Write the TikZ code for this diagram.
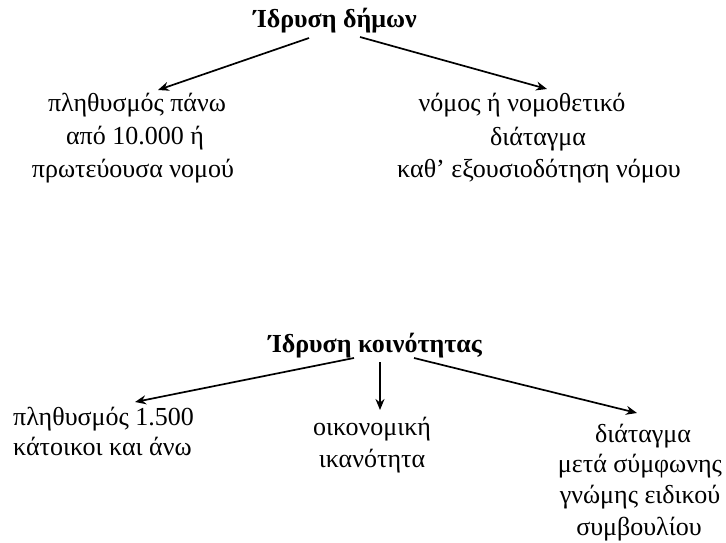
\documentclass[tikz,border=0pt]{standalone}
\usepackage{fontspec}
\setmainfont{Liberation Serif}
\usetikzlibrary{arrows.meta}
\begin{document}
\begin{tikzpicture}[x=1pt,y=-1pt,
  txt/.style={anchor=base,font=\fontsize{26}{30}\selectfont,inner sep=0pt},
  lft/.style={txt,anchor=base west},
  ttl/.style={anchor=base,font=\fontsize{26}{30}\bfseries\selectfont,inner sep=0pt},
  arr/.style={-{Stealth[length=11pt,width=9pt]},line width=1.7pt}]
\useasboundingbox (0,0) rectangle (726,543);
% --- top
\node[ttl] (d) at (335,28) {Ίδρυση δήμων};
\node[txt] (d1a) at (137,111) {πληθυσμός πάνω};
\node[txt] (d1b) at (135,144) {από 10.000 ή};
\node[txt] (d1c) at (133,177) {πρωτεύουσα νομού};
\node[txt] (d2a) at (522,111) {νόμος ή νομοθετικό};
\node[txt] (d2b) at (538,145) {διάταγμα};
\node[txt] (d2c) at (539,177) {καθ’ εξουσιοδότηση νόμου};
\coordinate (ds1) at (309,38);
\coordinate (ds2) at (360,37);
\coordinate (dt1) at (158,90);
\coordinate (dt2) at (547,89);
\draw[arr] (ds1) -- (dt1);
\draw[arr] (ds2) -- (dt2);
% --- bottom
\node[ttl] (k) at (375,352) {Ίδρυση κοινότητας};
\node[lft] (k1a) at (13,425) {πληθυσμός 1.500};
\node[lft] (k1b) at (13,455) {κάτοικοι και άνω};
\node[txt] (k2a) at (372,435) {οικονομική};
\node[txt] (k2b) at (372,467) {ικανότητα};
\node[txt] (k3a) at (643,442) {διάταγμα};
\node[txt] (k3b) at (640,472) {μετά σύμφωνης};
\node[txt] (k3c) at (640,503) {γνώμης ειδικού};
\node[txt] (k3d) at (639,535) {συμβουλίου};
\coordinate (ks1) at (354,358);
\coordinate (ks2) at (380,362);
\coordinate (ks3) at (414,358);
\coordinate (kt1) at (135,402);
\coordinate (kt2) at (380,410);
\coordinate (kt3) at (637,413);
\draw[arr] (ks1) -- (kt1);
\draw[arr] (ks2) -- (kt2);
\draw[arr] (ks3) -- (kt3);
\end{tikzpicture}
\end{document}
